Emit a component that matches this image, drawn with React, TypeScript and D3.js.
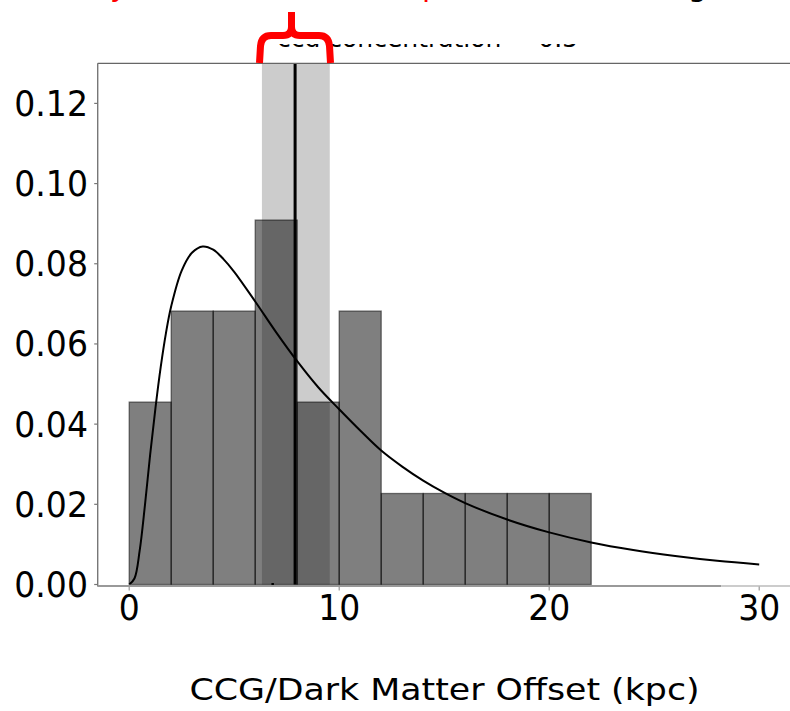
import React from "react";
import * as d3 from "d3";

// ---- data ----
const binEdges = [0, 2, 4, 6, 8, 10, 12, 14, 16, 18, 20, 22];
const binDensity = [0.0455, 0.0682, 0.0682, 0.0909, 0.0455, 0.0682, 0.0227, 0.0227, 0.0227, 0.0227, 0.0227];
const curveX = [0, 0.25, 0.5, 0.75, 1.0, 1.25, 1.5, 1.75, 2.0, 2.5, 3.0, 3.5, 4.0, 4.5, 5.0, 6.0, 7.0, 8.0, 9.0, 10, 11, 12, 13, 14, 15, 16, 18, 20, 22, 24, 26, 28, 30];
const curveY = [0, 0.0015, 0.0085, 0.0198, 0.0325, 0.0440, 0.0542, 0.0627, 0.0694, 0.0783, 0.0828, 0.0843, 0.0835, 0.0811, 0.0780, 0.0706, 0.0629, 0.0557, 0.0492, 0.0437, 0.0384, 0.0334, 0.0294, 0.0259, 0.0229, 0.0203, 0.0162, 0.0130, 0.0105, 0.0086, 0.0071, 0.0059, 0.0050];
const bandRange = [6.32, 9.55];
const centerLine = [7.9];
const rugMarks = [6.82];
const xTicks = [0, 10, 20, 30];
const yTicks = [0.0, 0.02, 0.04, 0.06, 0.08, 0.1, 0.12];
const xLabel = "CCG/Dark Matter Offset (kpc)";
const titleFragment = "ccg concentration = 0.5";

export default function App() {
  const W = 790, H = 711;
  const x = d3.scaleLinear().domain([-1.5, 31.5]).range([97.7, 790.7]);
  const y = d3.scaleLinear().domain([0, 0.13]).range([584.5, 63.3]);
  const pts: [number, number][] = curveX.map((v, i) => [v, curveY[i]]);
  const line = d3
    .line<[number, number]>()
    .x((d) => x(d[0]))
    .y((d) => y(d[1]))
    .curve(d3.curveCatmullRom.alpha(0.5));
  const font = "'DejaVu Sans', sans-serif";
  const left = x(-1.5);
  const top = y(0.13);
  const bottom = y(0);

  return (
    <svg
      width={W}
      height={H}
      style={{ position: "absolute", left: 0, top: 0, background: "#fff" }}
      fontFamily={font}
    >
      <defs>
        <clipPath id="titleClip">
          <rect x={0} y={44} width={W} height={3} />
        </clipPath>
        <clipPath id="topClip">
          <rect x={0} y={0} width={W} height={3.5} />
        </clipPath>
        <clipPath id="plotClip">
          <rect x={left} y={top} width={W - left} height={bottom - top} />
        </clipPath>
      </defs>

      {/* cut-off text fragments at very top */}
      <g clipPath="url(#topClip)">
        <text x={110} y={-4} fontSize={30} fill="#ff0000">y</text>
        <text x={422} y={-4} fontSize={30} fill="#ff0000">p</text>
        <text x={688} y={-4} fontSize={30} fill="#000">g,</text>
      </g>

      {/* partially hidden title */}
      <g clipPath="url(#titleClip)">
        <text x={277} y={46.5} fontSize={25} fill="#000">{titleFragment}</text>
      </g>

      {/* shaded band */}
      <rect
        x={x(bandRange[0])}
        y={top}
        width={x(bandRange[1]) - x(bandRange[0])}
        height={bottom - top}
        fill="#cccccc"
      />

      {/* histogram bars */}
      <g>
        {binDensity.map((v, i) => (
          <rect
            key={i}
            x={x(binEdges[i])}
            y={y(v)}
            width={x(binEdges[i + 1]) - x(binEdges[i])}
            height={y(0) - y(v)}
            fill="rgba(0,0,0,0.5)"
            stroke="rgba(0,0,0,0.5)"
            strokeWidth={1.3}
          />
        ))}
      </g>

      {/* vertical line */}
      {centerLine.map((v, i) => (
        <line key={i} x1={x(v)} x2={x(v)} y1={top} y2={bottom} stroke="#000" strokeWidth={3} />
      ))}

      {/* fitted curve */}
      <path d={line(pts) || ""} fill="none" stroke="#000" strokeWidth={2} clipPath="url(#plotClip)" />

      {/* rug mark */}
      {rugMarks.map((v, i) => (
        <rect key={i} x={x(v) - 1} y={bottom - 1.5} width={2.5} height={3} fill="#000" />
      ))}

      {/* spines */}
      <line x1={left} x2={W} y1={top} y2={top} stroke="#666" strokeWidth={1.2} />
      <line x1={left} x2={left} y1={top} y2={bottom + 2} stroke="#777" strokeWidth={1.4} />
      <line x1={left} x2={x(28.2)} y1={bottom + 1.5} y2={bottom + 1.5} stroke="#999" strokeWidth={2.2} />
      <line x1={x(28.2)} x2={W} y1={bottom + 1.5} y2={bottom + 1.5} stroke="#ccc" strokeWidth={2.2} />

      {/* y ticks */}
      {yTicks.map((t) => (
        <g key={t}>
          <line x1={left - 3.5} x2={left} y1={y(t)} y2={y(t)} stroke="#777" strokeWidth={1.2} />
          <text
            transform={`translate(88, ${y(t)}) scale(0.92, 1)`}
            textAnchor="end"
            dominantBaseline="central"
            fontSize={36}
            fill="#000"
          >
            {t.toFixed(2)}
          </text>
        </g>
      ))}

      {/* x ticks */}
      {xTicks.map((t) => (
        <g key={t}>
          <line x1={x(t)} x2={x(t)} y1={bottom + 2} y2={bottom + 6} stroke="#999" strokeWidth={1.2} />
          <text
            transform={`translate(${x(t)}, 620) scale(0.92, 1)`}
            textAnchor="middle"
            fontSize={36}
            fill="#000"
          >
            {t}
          </text>
        </g>
      ))}

      {/* x label */}
      <text
        transform={`translate(444.5, 700) scale(1.16, 1)`}
        textAnchor="middle"
        fontSize={30}
        fill="#000"
      >
        {xLabel}
      </text>

      {/* red brace annotation */}
      <path
        d={`M 259.5 63 L 260.5 46 Q 261.5 35.5 271 35.5 L 283 35.5 Q 291.5 35.5 291.5 27 L 291.5 12 M 291.5 27 Q 291.5 35.5 300 35.5 L 319 35.5 Q 328.5 35.5 329.5 46 L 330.5 63`}
        fill="none"
        stroke="#ff0000"
        strokeWidth={7}
      />
    </svg>
  );
}
